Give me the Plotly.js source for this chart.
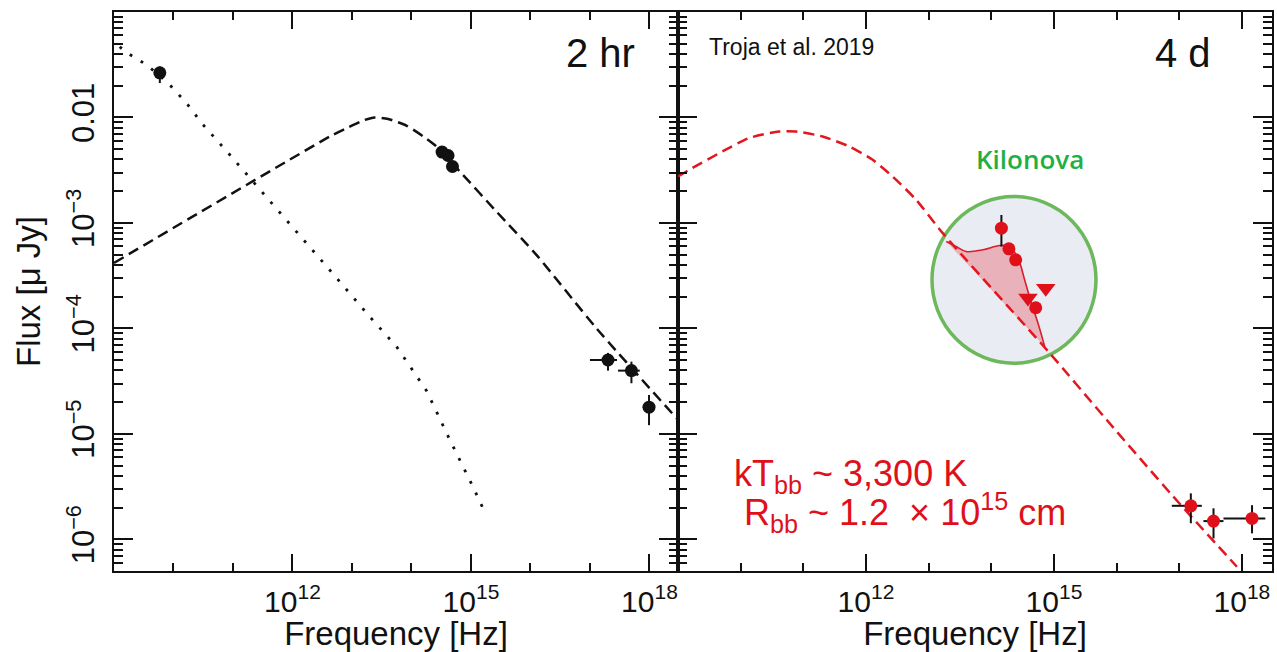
<!DOCTYPE html>
<html><head><meta charset="utf-8">
<script src="https://cdn.plot.ly/plotly-3.0.1.min.js"></script>
<style>html,body{margin:0;padding:0;background:#fff;} #chart{width:1277px;height:652px;}</style>
</head><body><div id="chart"></div>
<script>
// ---------------- data ----------------
const xTickVals = [1e12, 1e15, 1e18];
const xTickText = ['10<sup>12</sup>', '10<sup>15</sup>', '10<sup>18</sup>'];
const yTickVals = [1e-6, 1e-5, 1e-4, 1e-3, 1e-2];
const yTickText = ['10<sup>−6</sup>', '10<sup>−5</sup>', '10<sup>−4</sup>', '10<sup>−3</sup>', '0.01'];
const panelLabels = ['2 hr', '4 d'];

// 2 hr panel: dotted model
const dotFreq = [1.25e9, 1.51e9, 3.52e9, 8.11e9, 1.65e10, 3.14e10, 8.83e10, 3.42e11, 1.32e12, 5.14e12, 1.99e13, 5.60e13, 1.79e14, 4.29e14, 1.06e15, 1.64e15];
const dotFlux = [0.0469, 0.0423, 0.0316, 0.0212, 0.0137, 8.53e-3, 4.43e-3, 1.85e-3, 7.71e-4, 3.15e-4, 1.29e-4, 6.73e-5, 2.57e-5, 9.08e-6, 3.23e-6, 1.90e-6];
// 2 hr panel: dashed afterglow model
const agFreq = [1e9, 4.27e12, 8.13e12, 1.55e13, 2.40e13, 4.07e13, 8.32e13, 1.58e14, 2.63e14, 6.92e14, 2.69e15, 1.26e16, 1.29e17, 3.02e18];
const agFlux = [4.18e-4, 6.61e-3, 7.93e-3, 9.38e-3, 1.0e-2, 9.66e-3, 8.34e-3, 6.61e-3, 5.31e-3, 2.96e-3, 1.28e-3, 4.98e-4, 1.00e-4, 1.36e-5];
// 2 hr panel: measurements
const obs2Freq = [5.89e9, 3.27e14, 4.12e14, 4.89e14, 2.01e17, 4.98e17, 9.84e17];
const obs2FreqLo = [5.89e9, 3.27e14, 4.12e14, 4.89e14, 1.0e17, 2.96e17, 7.71e17];
const obs2FreqHi = [5.89e9, 3.27e14, 4.12e14, 4.89e14, 2.85e17, 6.87e17, 1.23e18];
const obs2Flux = [2.65e-2, 4.70e-3, 4.36e-3, 3.43e-3, 5.02e-5, 3.98e-5, 1.79e-5];
const obs2FluxLo = [2.12e-2, 4.70e-3, 4.36e-3, 3.43e-3, 3.98e-5, 3.02e-5, 1.21e-5];
const obs2FluxHi = [3.05e-2, 4.70e-3, 4.36e-3, 3.43e-3, 5.86e-5, 4.84e-5, 2.34e-5];

// 4 d panel: dashed afterglow model
const ag4Freq = [1e9, 1.10e9, 1.68e9, 5.08e9, 1.36e10, 4.10e10, 7.59e10, 2.02e11, 5.41e11, 1.28e12, 2.67e12, 6.31e12, 1.68e13, 8.57e14, 6.92e15, 8.05e16, 8.32e17];
const ag4Flux = [2.76e-3, 2.85e-3, 3.31e-3, 4.75e-3, 6.38e-3, 7.36e-3, 7.36e-3, 6.61e-3, 5.31e-3, 3.97e-3, 2.75e-3, 1.66e-3, 8.00e-4, 5.82e-5, 1.36e-5, 2.54e-6, 5.50e-7];
// 4 d panel: kilonova model excess
const knFreq = [1.91e13, 2.75e13, 3.98e13, 7.35e13, 1.36e14, 1.96e14, 2.67e14, 3.41e14, 4.37e14, 5.57e14, 7.13e14];
const knFlux = [6.67e-4, 5.97e-4, 5.36e-4, 5.56e-4, 6.11e-4, 5.97e-4, 4.63e-4, 2.88e-4, 1.73e-4, 1.12e-4, 6.71e-5];
// 4 d panel: optical / IR detections
const kdFreq = [1.45e14, 1.91e14, 2.45e14, 5.12e14];
const kdFlux = [8.93e-4, 5.68e-4, 4.47e-4, 1.57e-4];
const kdFluxLo = [5.97e-4, 5.68e-4, 4.47e-4, 1.57e-4];
const kdFluxHi = [1.19e-3, 5.68e-4, 4.47e-4, 1.57e-4];
// 4 d panel: upper limits
const ulFreq = [7.40e14, 3.85e14];
const ulFlux = [2.40e-4, 1.94e-4];
// 4 d panel: X-ray
const xr4Freq = [1.53e17, 3.52e17, 1.45e18];
const xr4FreqLo = [7.59e16, 2.43e17, 5.08e17];
const xr4FreqHi = [2.29e17, 5.08e17, 2.36e18];
const xr4Flux = [2.08e-6, 1.49e-6, 1.58e-6];
const xr4FluxLo = [1.42e-6, 1.02e-6, 1.14e-6];
const xr4FluxHi = [2.73e-6, 1.97e-6, 2.11e-6];

// ---------------- helpers ----------------
function err(val, lo, hi) {
  return {type: 'data', symmetric: false,
    array: hi.map((h, i) => h - val[i]),
    arrayminus: val.map((v, i) => v - lo[i]),
    color: '#111', thickness: 2, width: 0};
}
const xMinor = [];
for (let e = 9; e <= 18; e++) xMinor.push(Math.pow(10, e));
const yMinor = [];
for (let e = -7; e <= -1; e++) for (let m = 2; m <= 9; m++) yMinor.push(m * Math.pow(10, e));

const RED = '#e0101a';
const BLACK = '#111111';
const FONT = 'Liberation Sans, Arial, Helvetica, sans-serif';

const traces = [
  {x: dotFreq, y: dotFlux, xaxis: 'x', yaxis: 'y', mode: 'lines',
   line: {color: BLACK, width: 2.8, dash: '2.8px,10px'}, hoverinfo: 'skip'},
  {x: agFreq, y: agFlux, xaxis: 'x', yaxis: 'y', mode: 'lines', line: {shape: 'spline', smoothing: 0.6,
   color: BLACK, width: 2.5, dash: '11px,6px'}, hoverinfo: 'skip'},
  {x: obs2Freq, y: obs2Flux, xaxis: 'x', yaxis: 'y', mode: 'markers',
   marker: {color: BLACK, size: 13},
   error_x: err(obs2Freq, obs2FreqLo, obs2FreqHi), error_y: err(obs2Flux, obs2FluxLo, obs2FluxHi)},

  {x: knFreq, y: knFlux, xaxis: 'x2', yaxis: 'y2', mode: 'lines', fill: 'toself',
   fillcolor: 'rgba(232,105,118,0.45)', line: {color: '#d8202c', width: 1.6, shape: 'spline'}, hoverinfo: 'skip'},
  {x: ag4Freq, y: ag4Flux, xaxis: 'x2', yaxis: 'y2', mode: 'lines',
   line: {color: '#e3161e', width: 2.5, dash: '11px,6px', shape: 'spline', smoothing: 0.6}, hoverinfo: 'skip'},
  {x: kdFreq, y: kdFlux, xaxis: 'x2', yaxis: 'y2', mode: 'markers',
   marker: {color: RED, size: 13}, error_y: err(kdFlux, kdFluxLo, kdFluxHi)},
  {x: ulFreq, y: ulFlux, xaxis: 'x2', yaxis: 'y2', mode: 'markers',
   marker: {color: RED, size: 17, symbol: 'triangle-down'}},
  {x: xr4Freq, y: xr4Flux, xaxis: 'x2', yaxis: 'y2', mode: 'markers',
   marker: {color: RED, size: 13},
   error_x: err(xr4Freq, xr4FreqLo, xr4FreqHi), error_y: err(xr4Flux, xr4FluxLo, xr4FluxHi)}
];

function xAxis(domain, anchor) {
  return {type: 'log', range: [9, 18.48], domain: domain, anchor: anchor,
    showline: true, linecolor: BLACK, linewidth: 2, mirror: 'ticks',
    ticks: 'inside', ticklen: 17, tickwidth: 2, tickcolor: BLACK,
    tickmode: 'array', tickvals: xTickVals, ticktext: xTickText,
    tickfont: {family: FONT, size: 30, color: BLACK}, ticklabelstandoff: 3,
    minor: {tickmode: 'array', tickvals: xMinor, ticks: 'inside', ticklen: 8, tickwidth: 2, tickcolor: BLACK, showgrid: false},
    showgrid: false, zeroline: false, automargin: false, fixedrange: true,
    title: {text: 'Frequency [Hz]', font: {family: FONT, size: 33, color: BLACK}, standoff: 7}};
}
function yAxis(anchor, labels) {
  return {type: 'log', range: [-6.30, -1.0], domain: [0, 1], anchor: anchor,
    showline: true, linecolor: BLACK, linewidth: 2, mirror: 'ticks',
    ticks: 'inside', ticklen: 19, tickwidth: 2, tickcolor: BLACK,
    tickmode: 'array', tickvals: yTickVals, ticktext: yTickText,
    showticklabels: labels, tickangle: -90,
    tickfont: {family: FONT, size: 31, color: BLACK}, ticklabelstandoff: 6,
    minor: {tickmode: 'array', tickvals: yMinor, ticks: 'inside', ticklen: 9, tickwidth: 2, tickcolor: BLACK, showgrid: false},
    showgrid: false, zeroline: false, automargin: false, fixedrange: true,
    title: labels ? {text: 'Flux [μ Jy]', font: {family: FONT, size: 33, color: BLACK}, standoff: 10} : {text: ''}};
}

const split = 0.48705;
const layout = {
  width: 1277, height: 652, showlegend: false,
  paper_bgcolor: '#ffffff', plot_bgcolor: 'rgba(0,0,0,0)',
  margin: {l: 114, r: 5, t: 12, b: 81},
  xaxis: xAxis([0, split], 'y'),
  xaxis2: xAxis([split, 1], 'y2'),
  yaxis: yAxis('x', true),
  yaxis2: yAxis('x2', false),
  shapes: [
    {type: 'circle', xref: 'x2 domain', yref: 'y2 domain', x0: 0.4276, x1: 0.7037, y0: 0.3716, y1: 0.670,
     fillcolor: '#e9edf3', line: {color: '#6db75c', width: 3.5}, layer: 'below'}
  ],
  annotations: [
    {xref: 'x domain', yref: 'y domain', x: 0.927, y: 0.926, xanchor: 'right', yanchor: 'middle', showarrow: false,
     text: panelLabels[0], font: {family: FONT, size: 40, color: BLACK}},
    {xref: 'x2 domain', yref: 'y2 domain', x: 0.9007, y: 0.926, xanchor: 'right', yanchor: 'middle', showarrow: false,
     text: panelLabels[1], font: {family: FONT, size: 40, color: BLACK}},
    {xref: 'x2 domain', yref: 'y2 domain', x: 0.048, y: 0.938, xanchor: 'left', yanchor: 'middle', showarrow: false,
     text: 'Troja et al. 2019', font: {family: FONT, size: 23, color: BLACK}},
    {xref: 'x2 domain', yref: 'y2 domain', x: 0.592, y: 0.7376, xanchor: 'center', yanchor: 'middle', showarrow: false,
     text: 'Kilonova', font: {family: 'Open Sans, Lato, sans-serif', size: 26, weight: 600, color: '#1fb044'}},
    {xref: 'x2 domain', yref: 'y2 domain', x: 0.0904, y: 0.1707, xanchor: 'left', yanchor: 'middle', showarrow: false,
     text: 'kT<sub>bb</sub> ~ 3,300 K', font: {family: FONT, size: 36, color: RED}},
    {xref: 'x2 domain', yref: 'y2 domain', x: 0.1072, y: 0.1044, xanchor: 'left', yanchor: 'middle', showarrow: false,
     text: 'R<sub>bb</sub> ~ 1.2  × 10<sup>15</sup> cm', font: {family: FONT, size: 36, color: RED}}
  ]
};

Plotly.newPlot('chart', traces, layout, {staticPlot: true, displayModeBar: false});
</script>
</body></html>
